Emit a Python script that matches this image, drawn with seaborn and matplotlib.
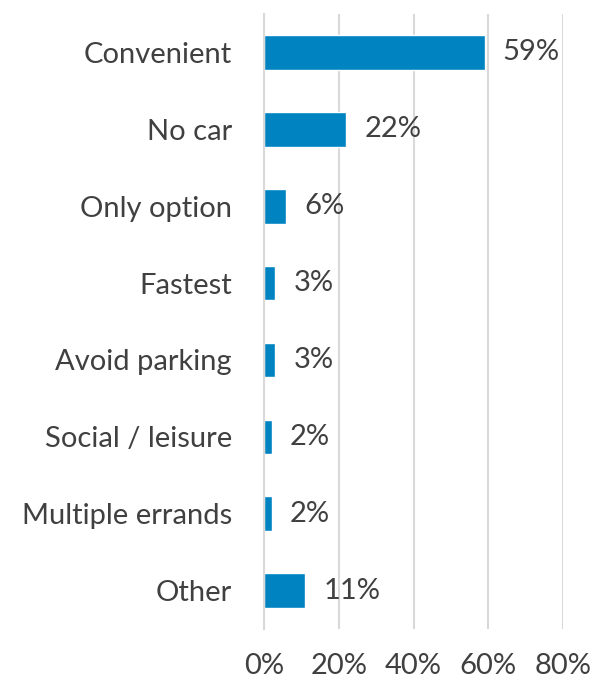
import matplotlib
matplotlib.use("Agg")
import matplotlib.pyplot as plt
import seaborn as sns
import pandas as pd
import numpy as np

reasons = ["Convenient", "No car", "Only option", "Fastest", "Avoid parking",
           "Social / leisure", "Multiple errands", "Other"]
shares = [59, 22, 6, 3, 3, 2, 2, 11]
x_ticks = [0, 20, 40, 60, 80]
x_tick_labels = ["0%", "20%", "40%", "60%", "80%"]

sns.set_theme(style="white")
plt.rcParams["font.family"] = ["Lato", "DejaVu Sans"]

df = pd.DataFrame({"reason": reasons, "share": shares})

fig = plt.figure(figsize=(5.96, 6.84), dpi=100)
ax = fig.add_axes([0.443, 0.0804, 0.502, 0.8991])

sns.barplot(data=df, x="share", y="reason", orient="h", color="#0083C1",
            saturation=1, width=0.45, ax=ax)

text_color = "#404040"
grid_color = "#d9d9d9"
font_size = 21

ax.set_xlim(0, 80)
ax.set_ylim(len(reasons) - 0.5, -0.5)
ax.set_xticks(x_ticks)
ax.set_xticklabels(x_tick_labels)
ax.set_xlabel("")
ax.set_ylabel("")

ax.grid(axis="x", color=grid_color, linewidth=1.5)
ax.set_axisbelow(True)

for side in ["top", "right", "bottom"]:
    ax.spines[side].set_visible(False)
ax.spines["left"].set_color(grid_color)
ax.spines["left"].set_linewidth(1.5)

ax.tick_params(axis="x", length=0, pad=17, labelsize=font_size,
               labelcolor=text_color)
ax.tick_params(axis="y", which="major", length=0, pad=23, labelsize=font_size,
               labelcolor=text_color)
ax.set_yticks(np.arange(-0.5, len(reasons), 1.0), minor=True)
ax.tick_params(axis="y", which="minor", length=7.2, width=1.5, color=grid_color)

for container in ax.containers:
    ax.bar_label(container, labels=[f"{v}%" for v in shares], padding=13,
                 fontsize=font_size, color=text_color)

fig.savefig("out.png", dpi=100)
